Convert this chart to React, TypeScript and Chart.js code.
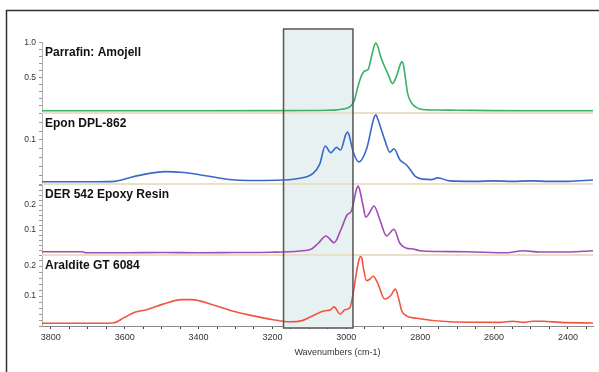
import React, { useEffect, useRef } from 'react';
import { Chart, registerables } from 'chart.js';

Chart.register(...registerables);

// ---------- data ----------
const panelNames = ['Parrafin: Amojell', 'Epon DPL-862', 'DER 542 Epoxy Resin', 'Araldite GT 6084'];
const xTitle = 'Wavenumbers (cm-1)';

const paraffinWn = [3824, 3600, 3400, 3200, 3100, 3050, 3025, 3005, 2990, 2978, 2971, 2960, 2950, 2941, 2932, 2925, 2920, 2914, 2908, 2896, 2885, 2875, 2866, 2856, 2852, 2849, 2845, 2840, 2834, 2823, 2810, 2801, 2780, 2750, 2700, 2600, 2500, 2400, 2332];
const paraffinAbs = [0.033, 0.033, 0.033, 0.034, 0.036, 0.04, 0.045, 0.06, 0.09, 0.18, 0.33, 0.52, 0.6, 0.62, 0.8, 0.95, 1.0, 0.94, 0.82, 0.66, 0.53, 0.42, 0.5, 0.66, 0.72, 0.73, 0.68, 0.5, 0.28, 0.14, 0.08, 0.057, 0.045, 0.042, 0.04, 0.034, 0.033, 0.033, 0.033];

const eponWn = [3824, 3700, 3627, 3580, 3540, 3491, 3440, 3390, 3340, 3300, 3250, 3172, 3126, 3090, 3072, 3057, 3042, 3026, 3016, 3001, 2997, 2993, 2981, 2966, 2945, 2925, 2920, 2915, 2896, 2882, 2871, 2855, 2837, 2823, 2814, 2793, 2770, 2752, 2720, 2650, 2600, 2550, 2500, 2450, 2400, 2332];
const eponAbs = [0.005, 0.005, 0.006, 0.016, 0.023, 0.028, 0.026, 0.02, 0.013, 0.009, 0.008, 0.009, 0.013, 0.024, 0.045, 0.086, 0.071, 0.083, 0.077, 0.113, 0.118, 0.112, 0.072, 0.05, 0.08, 0.15, 0.157, 0.148, 0.1, 0.072, 0.08, 0.055, 0.043, 0.028, 0.018, 0.011, 0.01, 0.014, 0.007, 0.006, 0.007, 0.006, 0.007, 0.006, 0.006, 0.009];

const derWn = [3824, 3716, 3705, 3600, 3500, 3400, 3300, 3207, 3126, 3094, 3076, 3055, 3033, 3015, 2998, 2986, 2972, 2968, 2964, 2955, 2947, 2938, 2925, 2909, 2891, 2871, 2855, 2837, 2819, 2801, 2750, 2673, 2565, 2522, 2476, 2400, 2332];
const derAbs = [0.013, 0.013, 0.009, 0.009, 0.01, 0.009, 0.01, 0.011, 0.016, 0.024, 0.047, 0.076, 0.049, 0.1, 0.16, 0.177, 0.265, 0.276, 0.262, 0.2, 0.151, 0.167, 0.196, 0.14, 0.076, 0.103, 0.047, 0.027, 0.024, 0.017, 0.014, 0.013, 0.009, 0.017, 0.012, 0.012, 0.017];

const aralditeWn = [3824, 3700, 3632, 3600, 3573, 3541, 3496, 3446, 3419, 3360, 3306, 3252, 3198, 3153, 3120, 3099, 3058, 3044, 3033, 3017, 3004, 2990, 2981, 2971, 2965, 2961, 2957, 2954, 2945, 2936, 2927, 2916, 2896, 2880, 2867, 2858, 2850, 2837, 2810, 2720, 2584, 2549, 2520, 2495, 2468, 2420, 2332];
const aralditeAbs = [0.009, 0.009, 0.01, 0.029, 0.046, 0.054, 0.073, 0.088, 0.088, 0.07, 0.049, 0.034, 0.021, 0.014, 0.018, 0.029, 0.051, 0.053, 0.064, 0.04, 0.054, 0.062, 0.112, 0.19, 0.224, 0.232, 0.222, 0.196, 0.151, 0.157, 0.166, 0.146, 0.09, 0.101, 0.123, 0.09, 0.051, 0.034, 0.026, 0.014, 0.012, 0.016, 0.012, 0.016, 0.016, 0.012, 0.01];

const xMin = 2332;
const xMax = 3824;
const xStep = 50;
const xLabelEvery = 200;
const panelMax = [1.014, 0.161, 0.284, 0.237];
const panelStep = [0.1, 0.02, 0.02, 0.02];
const panelMajorTicks = [[0.5, 1.0], [0.1], [0.1, 0.2], [0.1, 0.2]];
const highlightRange = [3170, 2982];

const seriesColors = ['#3cb064', '#3a68c8', '#a04cb4', '#f2553f'];

// ---------- chart ----------
const yIds = ['y1', 'y2', 'y3', 'y4'];
const seriesWn = [paraffinWn, eponWn, derWn, aralditeWn];
const seriesAbs = [paraffinAbs, eponAbs, derAbs, aralditeAbs];

const decorPlugin = {
  id: 'decor',
  beforeDraw(chart: any) {
    const { ctx } = chart;
    ctx.save();
    ctx.fillStyle = '#ffffff';
    ctx.fillRect(0, 0, chart.width, chart.height);
    ctx.restore();
  },
  beforeDatasetsDraw(chart: any) {
    const { ctx, chartArea, scales } = chart;
    const x1 = scales.x.getPixelForValue(highlightRange[0]);
    const x2 = scales.x.getPixelForValue(highlightRange[1]);
    ctx.save();
    ctx.fillStyle = '#e7f1f2';
    ctx.fillRect(x1, chartArea.top - 13, x2 - x1, chartArea.bottom - chartArea.top + 15);
    ctx.strokeStyle = '#eadfc8';
    ctx.lineWidth = 2;
    yIds.forEach((id) => {
      const s = scales[id];
      if (Math.abs(s.bottom - chartArea.bottom) > 2) {
        ctx.beginPath();
        ctx.moveTo(chartArea.left, s.bottom);
        ctx.lineTo(chartArea.right, s.bottom);
        ctx.stroke();
      }
    });
    ctx.restore();
  },
  afterDatasetsDraw(chart: any) {
    const { ctx, chartArea, scales } = chart;
    const x1 = scales.x.getPixelForValue(highlightRange[0]);
    const x2 = scales.x.getPixelForValue(highlightRange[1]);
    ctx.save();
    ctx.strokeStyle = '#555555';
    ctx.lineWidth = 1.5;
    ctx.strokeRect(x1, chartArea.top - 13, x2 - x1, chartArea.bottom - chartArea.top + 15);
    ctx.restore();
  },
  afterDraw(chart: any) {
    const { ctx, chartArea, scales } = chart;
    ctx.save();
    ctx.fillStyle = '#111111';
    ctx.font = 'bold 12px Arial, "Liberation Sans", sans-serif';
    ctx.textAlign = 'left';
    ctx.textBaseline = 'middle';
    yIds.forEach((id, i) => {
      const s = scales[id];
      ctx.fillText(panelNames[i], chartArea.left + 3, s.top + 11);
    });
    ctx.font = '9px Arial, "Liberation Sans", sans-serif';
    ctx.fillStyle = '#333333';
    ctx.textAlign = 'center';
    ctx.fillText(xTitle, (chartArea.left + chartArea.right) / 2 + 20, chartArea.bottom + 27);
    // outer frame
    ctx.strokeStyle = '#333333';
    ctx.lineWidth = 1.5;
    ctx.beginPath();
    ctx.moveTo(6.5, chart.height);
    ctx.lineTo(6.5, 10.5);
    ctx.lineTo(chart.width, 10.5);
    ctx.stroke();
    ctx.restore();
  },
};

export default function App() {
  const ref = useRef<HTMLCanvasElement>(null);
  useEffect(() => {
    document.body.style.margin = '0';
    const scales: any = {
      x: {
        type: 'linear',
        reverse: true,
        min: xMin,
        max: xMax,
        position: 'bottom',
        afterFit: (s: any) => {
          s.height = 46;
        },
        border: { display: true, color: '#888888', width: 1 },
        grid: { drawOnChartArea: false, drawTicks: true, tickLength: 3, color: '#444444' },
        ticks: {
          stepSize: xStep,
          autoSkip: false,
          includeBounds: false,
          maxRotation: 0,
          padding: 3,
          color: '#333333',
          font: { size: 9 },
          callback: (v: any) => (Math.abs(v % xLabelEvery) < 1e-6 ? String(v) : ''),
        },
      },
    };
    yIds.forEach((id, i) => {
      scales[id] = {
        type: 'linear',
        position: 'left',
        stack: 'panels',
        stackWeight: 1,
        weight: 4 - i,
        min: 0,
        max: panelMax[i],
        afterFit: (s: any) => {
          s.width = 42;
        },
        border: { display: true, color: '#b0b0b0', width: 1 },
        grid: { drawOnChartArea: false, drawTicks: true, tickLength: 3, color: '#999999' },
        ticks: {
          stepSize: panelStep[i],
          autoSkip: false,
          includeBounds: false,
          padding: 3,
          color: '#333333',
          font: { size: 8.5 },
          callback: (v: any) =>
            panelMajorTicks[i].some((m) => Math.abs(m - v) < 1e-6) ? Number(v).toFixed(1) : '',
        },
      };
    });

    const datasets = yIds.map((id, i) => ({
      label: panelNames[i],
      data: seriesWn[i].map((w, k) => ({ x: w, y: seriesAbs[i][k] })),
      yAxisID: id,
      xAxisID: 'x',
      borderColor: seriesColors[i],
      borderWidth: 1.6,
      pointRadius: 0,
      cubicInterpolationMode: 'monotone' as const,
      fill: false,
    }));

    Chart.defaults.font.family = 'Arial, "Liberation Sans", sans-serif';
    const chart = new Chart(ref.current!, {
      type: 'line',
      data: { datasets },
      options: {
        responsive: false,
        animation: false,
        devicePixelRatio: 1,
        layout: { padding: { top: 42, right: 6, left: 0, bottom: 0 } },
        plugins: { legend: { display: false }, tooltip: { enabled: false }, title: { display: false } },
        scales,
      },
      plugins: [decorPlugin],
    } as any);
    return () => chart.destroy();
  }, []);
  return (
    <div style={{ width: 599, height: 372 }}>
      <canvas ref={ref} width={599} height={372} style={{ display: 'block' }} />
    </div>
  );
}
